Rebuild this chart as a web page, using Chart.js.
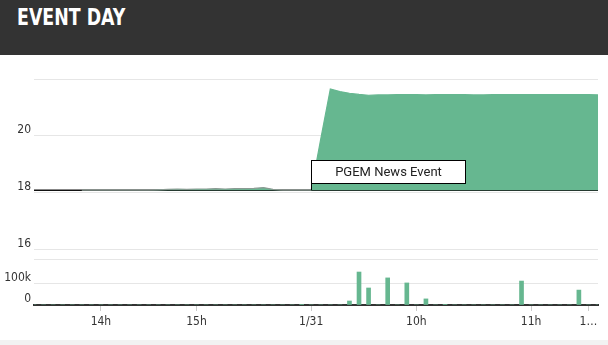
<!DOCTYPE html>
<html>
<head>
<meta charset="utf-8">
<script src="https://cdn.jsdelivr.net/npm/chart.js@4/dist/chart.umd.min.js"></script>
<style>
  html, body { margin: 0; padding: 0; background: #ffffff; }
  body { width: 608px; height: 345px; position: relative; overflow: hidden; }
  #header { position: absolute; left: 0; top: 0; width: 608px; height: 55px; background: #333333; }
  #title { position: absolute; left: 17px; top: 6px; margin: 0; font: bold 23px/23px "Liberation Sans Narrow", "DejaVu Sans Condensed", "Liberation Sans", sans-serif; color: #ffffff; transform: scaleX(0.84); transform-origin: 0 0; white-space: nowrap; }
  #wrap { position: absolute; left: 0; top: 55px; width: 608px; height: 285px; }
  #footer { position: absolute; left: 0; top: 340px; width: 608px; height: 5px; background: #f2f2f2; }
</style>
</head>
<body>
<div id="header"><h1 id="title">EVENT DAY</h1></div>
<div id="wrap"><canvas id="c" width="608" height="285"></canvas></div>
<div id="footer"></div>
<script>
// ---- data ----
const categories = [
  '13:18','13:24','13:30','13:36','13:42','13:48','13:54',
  '14:00','14:06','14:12','14:18','14:24','14:30','14:36','14:42','14:48','14:54',
  '15:00','15:06','15:12','15:18','15:24','15:30','15:36','15:42','15:48','15:54','15:57','16:00',
  '09:05','09:10','09:15','09:20','09:25','09:30','09:35','09:40','09:45','09:50','09:55',
  '10:00','10:05','10:10','10:15','10:20','10:25','10:30','10:35','10:40','10:45','10:50','10:55',
  '11:00','11:05','11:10','11:15','11:20','11:25','11:30','11:35'
];
const priceValues = [
  null, null, null, null, null,
  18.10, 18.10, 18.10, 18.10, 18.10, 18.10, 18.10, 18.10, 18.11,
  18.13, 18.14, 18.13, 18.14, 18.14, 18.15, 18.14, 18.15, 18.15, 18.16,
  18.19, 18.13, 18.10, 18.10, 18.10,
  18.10, 19.90, 21.65, 21.56, 21.50, 21.46, 21.43, 21.44, 21.44, 21.45, 21.45,
  21.45, 21.44, 21.45, 21.45, 21.45, 21.45, 21.44, 21.44, 21.45, 21.45, 21.45, 21.45,
  21.45, 21.45, 21.45, 21.45, 21.45, 21.45, 21.45, 21.44
];
const volumeValues = [
  0, 0, 0, 0, 0, 0, 0, 0, 0, 0, 0, 0, 0, 0, 0, 0, 0,
  0, 0, 0, 0, 0, 0, 0, 0, 0, 0, 0, 3000,
  0, 0, 0, 0, 19000, 157000, 81000, 0, 129000, 0, 105000,
  0, 29000, 0, 3000, 0, 0, 0, 0, 0, 0, 0, 114000,
  0, 0, 0, 0, 0, 71000, 0, 0
];
const prevClose = 18.1;
const xTickAt = ['14:00', '15:00', '09:05', '10:00', '11:00', '11:30'];
const xTickLabels = ['14h', '15h', '1/31', '10h', '11h', '1\u2026'];
const priceTicks = [16, 18, 20, 22];
const priceTickLabels = ['16', '18', '20', ''];
const volumeTicks = [0, 100000, 219000];
const volumeTickLabels = ['0', '100k', ''];
const flagAt = '09:05';
const flagText = 'PGEM News Event';

// ---- style ----
const GREEN = '#66b790';
const GRID = '#e6e6e6';
const AXIS = '#333333';
const TXT = '#333333';
const FONT_FAMILY = '"Liberation Sans Narrow", "DejaVu Sans Condensed", "Liberation Sans", sans-serif';
const axisFont = { family: FONT_FAMILY, size: 12 };

const flagPlugin = {
  id: 'flag',
  afterDatasetsDraw(chart) {
    const idx = categories.indexOf(flagAt);
    const xs = chart.scales.x, ys = chart.scales.y;
    const x = Math.round(xs.getPixelForValue(idx)) + 0.5;
    const y = Math.round(ys.getPixelForValue(priceValues[idx]));
    const ctx = chart.ctx;
    const w = 154, h = 23, gap = 7;
    ctx.save();
    ctx.fillStyle = '#ffffff';
    ctx.fillRect(x, y - gap - h, w, h);
    ctx.strokeStyle = '#000000';
    ctx.lineWidth = 1;
    ctx.strokeRect(x, y - gap - h + 0.5, w, h);
    ctx.beginPath();
    ctx.moveTo(x, y - gap);
    ctx.lineTo(x, y);
    ctx.stroke();
    ctx.fillStyle = '#222222';
    ctx.font = '13px Roboto, "Liberation Sans", sans-serif';
    ctx.textAlign = 'center';
    ctx.textBaseline = 'middle';
    ctx.fillText(flagText, x + w / 2, y - gap - h / 2 + 1);
    ctx.restore();
  }
};

// volume axis labels share the left gutter with the price axis
const volumeLabelPlugin = {
  id: 'volumeLabels',
  afterDraw(chart) {
    const s = chart.scales.y2;
    const ctx = chart.ctx;
    ctx.save();
    ctx.fillStyle = TXT;
    ctx.font = '12px ' + FONT_FAMILY;
    ctx.textAlign = 'right';
    ctx.textBaseline = 'middle';
    volumeTicks.forEach((v, i) => {
      if (volumeTickLabels[i]) ctx.fillText(volumeTickLabels[i], chart.chartArea.left - 3, s.getPixelForValue(v) - 6);
    });
    ctx.restore();
  }
};

new Chart(document.getElementById('c'), {
  type: 'line',
  data: {
    labels: categories,
    datasets: [
      {
        label: 'Price',
        data: priceValues,
        yAxisID: 'y',
        borderColor: '#8a9a92',
        borderWidth: 1.2,
        segment: {
          borderColor: c => (c.p0DataIndex >= categories.indexOf(flagAt) ? GREEN : '#8a9a92')
        },
        backgroundColor: GREEN,
        fill: { value: prevClose },
        pointRadius: 0,
        tension: 0,
        order: 1
      },
      {
        label: 'Previous close',
        data: categories.map(() => prevClose),
        yAxisID: 'y',
        borderColor: '#111111',
        borderWidth: 1.5,
        pointRadius: 0,
        fill: false,
        order: 3
      },
      {
        type: 'bar',
        label: 'Volume',
        data: volumeValues,
        yAxisID: 'y2',
        backgroundColor: GREEN,
        barThickness: 4,
        order: 2
      }
    ]
  },
  options: {
    responsive: false,
    animation: false,
    events: [],
    layout: { padding: { top: 24, right: 10, left: 0, bottom: 0 } },
    plugins: { legend: { display: false }, tooltip: { enabled: false }, title: { display: false } },
    scales: {
      x: {
        type: 'category',
        offset: false,
        afterBuildTicks: s => { s.ticks = s.ticks.filter(t => xTickAt.includes(categories[t.value])); },
        afterFit: s => { s.height = 35; },
        grid: { drawOnChartArea: false, drawTicks: true, tickLength: 6, color: '#cccccc', offset: false },
        border: { display: true, color: AXIS, width: 2 },
        ticks: {
          autoSkip: false, maxRotation: 0, minRotation: 0, padding: 4,
          color: TXT, font: axisFont,
          callback: function (v) { const i = xTickAt.indexOf(categories[v]); return i >= 0 ? xTickLabels[i] : ''; }
        }
      },
      y: {
        type: 'linear', position: 'left', weight: 1,
        min: 14.07, max: 22,
        afterBuildTicks: s => { s.ticks = priceTicks.map(v => ({ value: v })); },
        afterFit: s => { s.width = 34; },
        grid: { color: GRID, lineWidth: 1, drawTicks: false },
        border: { display: false },
        ticks: {
          padding: 3, labelOffset: -6, color: TXT, font: axisFont,
          callback: v => { const i = priceTicks.indexOf(v); return i >= 0 ? priceTickLabels[i] : ''; }
        }
      },
      y2: {
        type: 'linear', position: 'left', weight: 0,
        min: 0, max: 1076000,
        afterBuildTicks: s => { s.ticks = volumeTicks.map(v => ({ value: v })); },
        afterFit: s => { s.width = 0; },
        grid: { color: c => (c.tick && c.tick.value === 0 ? AXIS : GRID), lineWidth: 1, drawTicks: false },
        border: { display: false },
        ticks: { display: false }
      }
    }
  },
  plugins: [flagPlugin, volumeLabelPlugin]
});
</script>
</body>
</html>
